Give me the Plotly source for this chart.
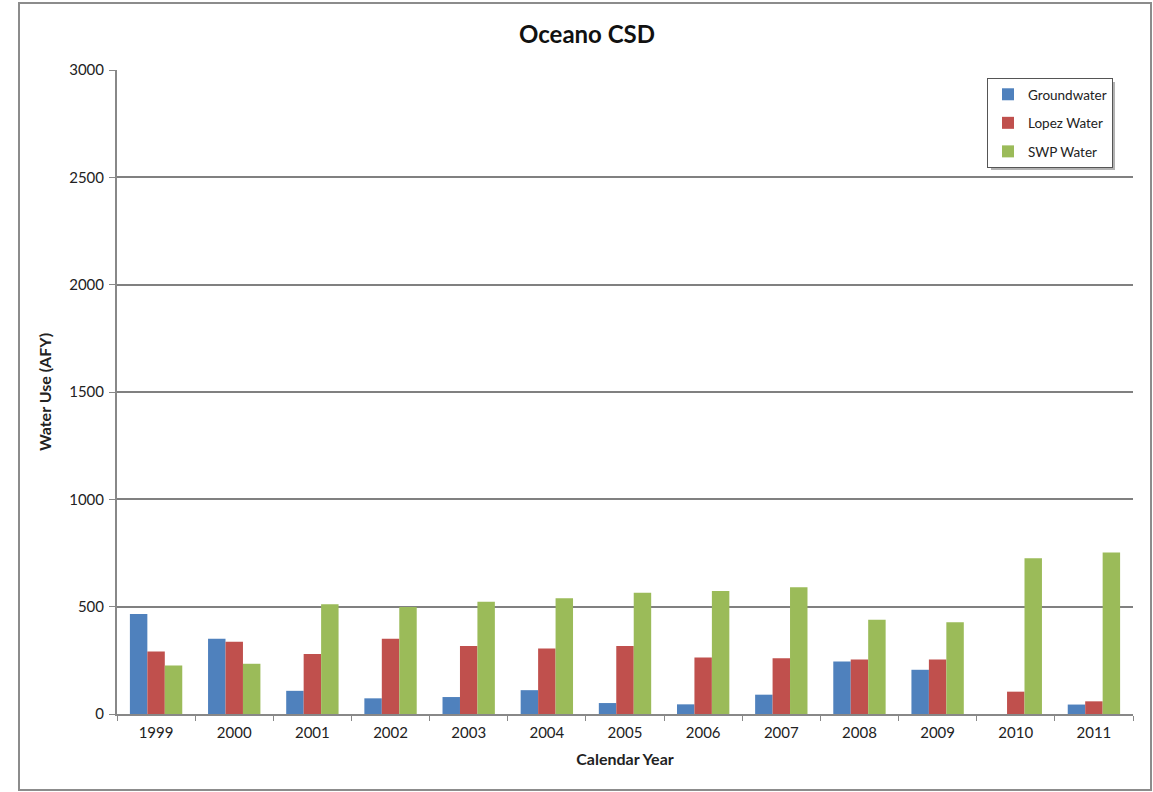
import plotly.graph_objects as go

years = ["1999", "2000", "2001", "2002", "2003", "2004", "2005",
         "2006", "2007", "2008", "2009", "2010", "2011"]
groundwater = [466, 350, 108, 73, 79, 111, 51, 45, 90, 245, 206, 0, 44]
lopez_water = [291, 336, 280, 350, 317, 305, 317, 263, 260, 254, 254, 104, 59]
swp_water = [226, 234, 511, 499, 523, 539, 565, 573, 590, 439, 427, 726, 752]

series = [
    ("Groundwater", groundwater, "#4F81BD"),
    ("Lopez Water", lopez_water, "#C0504D"),
    ("SWP Water", swp_water, "#9BBB59"),
]

FONT = "Lato, 'Liberation Sans', sans-serif"

fig = go.Figure()
for i, (name, vals, col) in enumerate(series):
    fig.add_trace(go.Bar(x=years, y=vals, name=name, marker_color=col,
                         marker_line_width=0, legendgroup=f"g{i}"))

W, H = 1153, 792
L, R, T, B = 117, 20, 70, 78
pw, ph = W - L - R, H - T - B

def px(x):
    return (x - L) / pw

def py(y):
    return (H - B - y) / ph

fig.update_layout(
    width=W, height=H,
    margin=dict(l=L, r=R, t=T, b=B),
    paper_bgcolor="white", plot_bgcolor="white",
    font=dict(family=FONT, color="#222222"),
    barmode="group", bargap=0.33, bargroupgap=0,
    title=dict(text="<b>Oceano CSD</b>", x=587 / W, xanchor="center",
               y=1 - 35 / H, yanchor="middle",
               font=dict(size=24, family=FONT, color="#111111")),
    showlegend=True,
    legend=dict(x=px(987), y=py(78), xanchor="left", yanchor="top",
                bgcolor="white", bordercolor="#555555", borderwidth=1,
                font=dict(size=13.5, family=FONT), tracegroupgap=8,
                traceorder="grouped", itemwidth=30),
    xaxis=dict(title=dict(text="<b>Calendar Year</b>", font=dict(size=16), standoff=14),
               showline=True, linecolor="#888888", linewidth=2,
               ticks="outside", tickson="boundaries", ticklen=5,
               tickcolor="#888888", tickfont=dict(size=15),
               ticklabelstandoff=4,
               showgrid=False),
    yaxis=dict(title=dict(text="<b>Water Use (AFY)</b>", font=dict(size=16), standoff=14),
               range=[0, 3000], dtick=500, tick0=0,
               showline=True, linecolor="#888888", linewidth=2,
               ticks="outside", ticklen=6, tickcolor="#888888",
               tickfont=dict(size=15), ticklabelstandoff=2,
               showgrid=True, gridcolor="#808080", gridwidth=1.5,
               zeroline=False),
    shapes=[
        dict(type="rect", xref="paper", yref="paper",
             x0=px(19), x1=px(1151), y0=py(790), y1=py(3),
             line=dict(color="#8c8c8c", width=2), fillcolor="rgba(0,0,0,0)",
             layer="below"),
        dict(type="rect", xref="paper", yref="paper",
             x0=px(991), x1=px(1115), y0=py(170), y1=py(82),
             line=dict(width=0), fillcolor="rgba(0,0,0,0.3)",
             layer="above"),
    ],
)

fig.write_html("out.html")
